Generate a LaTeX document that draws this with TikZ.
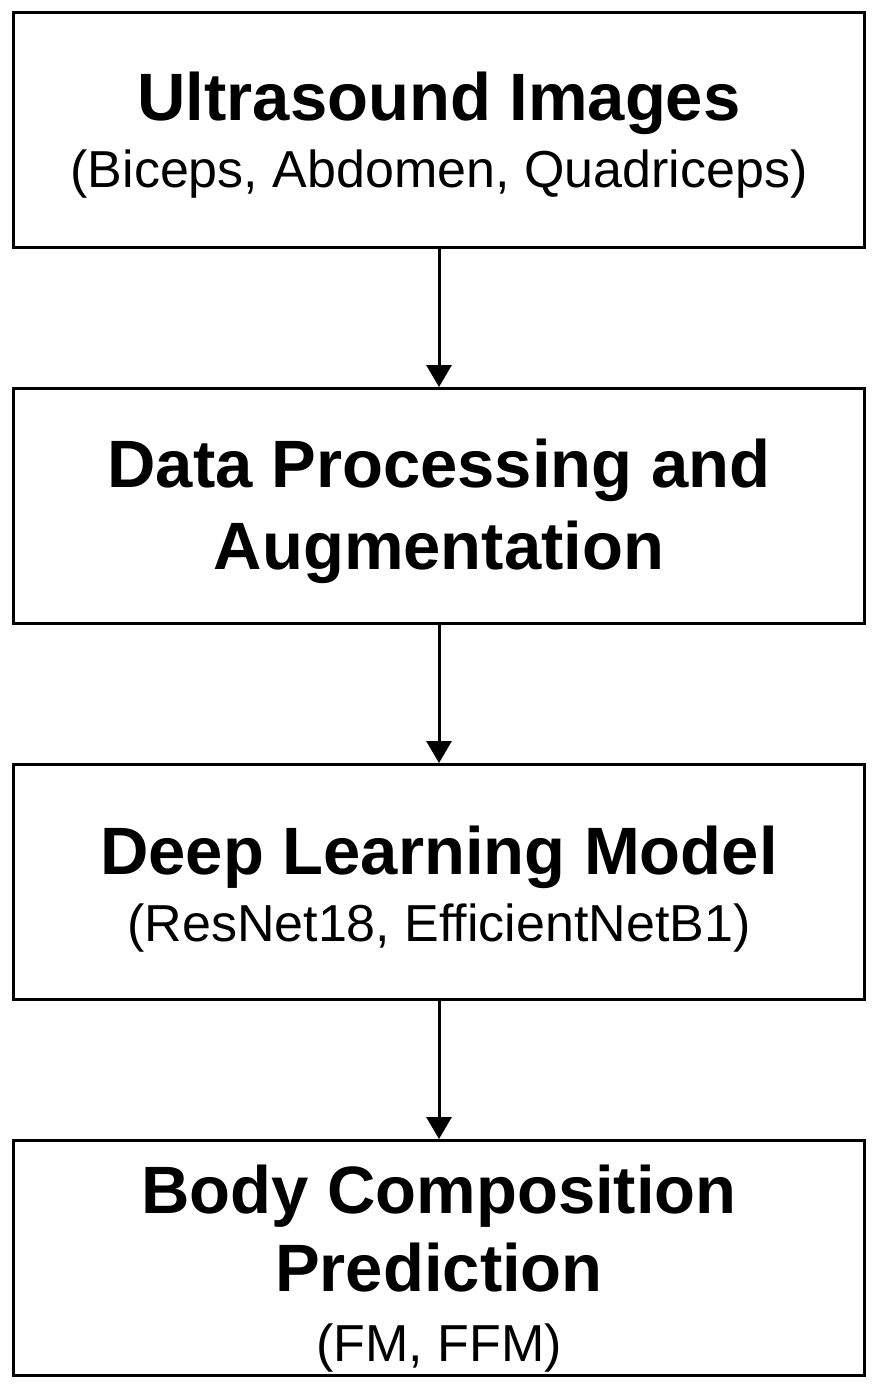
\documentclass[tikz,border=0pt]{standalone}
\usepackage{fontspec}
\setmainfont{Liberation Sans}
\usepackage{tikz}
\usetikzlibrary{arrows.meta,positioning}

\newcommand{\ttlfont}{\fontsize{33.5pt}{41pt}\selectfont\bfseries}
\newcommand{\subfont}{\fontsize{26pt}{33.5pt}\selectfont\mdseries}
% taller first line pushes the text a little lower in its box
\newcommand{\lift}[1]{\rule{0pt}{#1}}

\begin{document}
\begin{tikzpicture}[
    node distance=69pt,
    stagebox/.style={rectangle, draw, line width=1.5pt, minimum width=425.5pt, minimum height=117.5pt, align=center, inner sep=0pt, font=\ttlfont},
    flow/.style={-{Triangle[length=11pt, width=12.5pt]}, line width=1.5pt}
]
    \useasboundingbox (0,0) rectangle (438.5pt,-694.5pt);
    \node [stagebox] (images) at (219.5pt,-65pt) {\lift{29.4pt}Ultrasound Images\\[-7.5pt]{\subfont (Biceps, Abdomen, Quadriceps)}};
    \node [stagebox, below=of images] (augment) {\lift{29.4pt}Data Processing and\\Augmentation};
    \node [stagebox, below=of augment] (model) {\lift{31.4pt}Deep Learning Model\\[-7.5pt]{\subfont (ResNet18, EfficientNetB1)}};
    \node [stagebox, below=of model] (predict) {\lift{34.4pt}Body Composition\\[-2pt]Prediction\\[-6pt]{\subfont (FM, FFM)}};
    \draw [flow] (images) -- (augment);
    \draw [flow] (augment) -- (model);
    \draw [flow] (model) -- (predict);
\end{tikzpicture}
\end{document}
